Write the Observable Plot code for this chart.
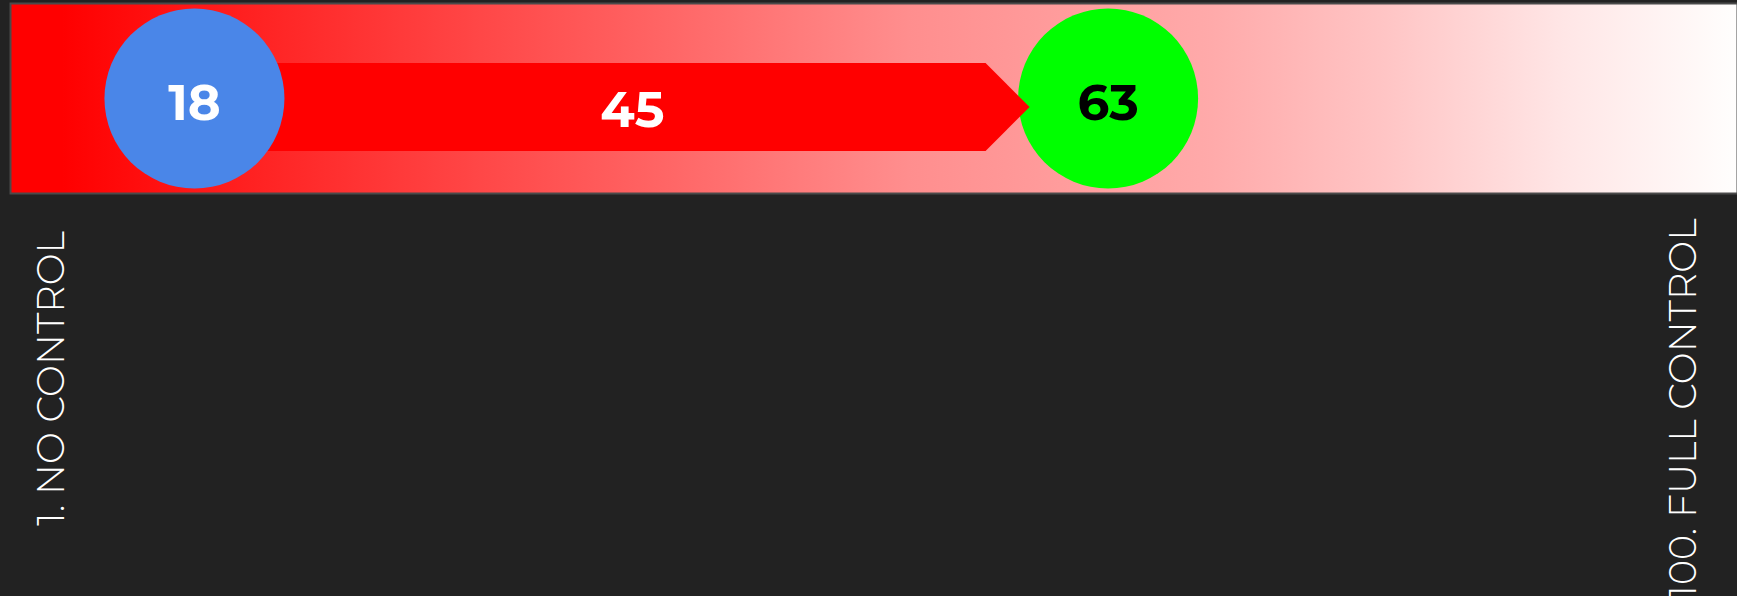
<!DOCTYPE html>
<html>
<head>
<meta charset="utf-8">
<script src="https://cdn.jsdelivr.net/npm/d3@7"></script>
<script src="https://cdn.jsdelivr.net/npm/@observablehq/plot@0.6"></script>
<style>
  html, body { margin: 0; padding: 0; background: #222222; overflow: hidden; }
  #chart svg { display: block; }
</style>
</head>
<body>
<div id="chart"></div>
<script>
// ---- data ----
const startValue = [18];
const endValue = [63];
const changeValue = [45];
const scaleLabels = ["1. NO CONTROL", "100. FULL CONTROL"];

// ---- styling ----
const R = 90;
const numFont = "Montserrat, Lato, 'Open Sans', sans-serif";
const lblFont = "Montserrat, Lato, 'Open Sans', sans-serif";
const gradStops = [
  [0, "#ff0000"], [0.03, "#ff0000"], [0.162, "#ff2828"], [0.347, "#ff5c5c"],
  [0.52, "#ff8e8e"], [0.695, "#ffaaaa"], [0.8, "#ffc6c6"], [0.9, "#ffe6e6"], [1, "#fffefd"]
];

function gradientDefs() {
  const defs = d3.create("svg:defs");
  const lg = defs.append("linearGradient").attr("id", "barGrad")
    .attr("x1", 0).attr("x2", 1).attr("y1", 0).attr("y2", 0);
  for (const [o, c] of gradStops) lg.append("stop").attr("offset", o).attr("stop-color", c);
  return defs.node();
}

function arrowMark(index, scales, values, dimensions) {
  const {x} = scales;
  const {marginTop, marginBottom, height} = dimensions;
  const cy = (marginTop + height - marginBottom) / 2 + 9;
  const half = 44;
  const x0 = x(startValue[0]);
  const tip = x(endValue[0]) - R + 12;
  const sh = tip - half;
  return d3.create("svg:path")
    .attr("d", `M${x0},${cy - half}L${sh},${cy - half}L${tip},${cy}L${sh},${cy + half}L${x0},${cy + half}Z`)
    .attr("fill", "#ff0000")
    .node();
}

const chart = Plot.plot({
  width: 1737,
  height: 596,
  marginLeft: 10,
  marginRight: 0,
  marginTop: 3,
  marginBottom: 403,
  style: { background: "#222222", color: "white", overflow: "visible" },
  x: { domain: [8.94, 94.0], axis: null },
  marks: [
    gradientDefs,
    Plot.frame({ fill: "url(#barGrad)", stroke: "#4a4a4a", strokeWidth: 2 }),
    Plot.dot(endValue, { x: d => d, r: R, fill: "#00ff00" }),
    arrowMark,
    Plot.dot(startValue, { x: d => d, r: R, fill: "#4a86e8" }),
    Plot.text(startValue, { x: d => d, text: d => String(d), fill: "white", fontSize: 50, fontWeight: 700, fontFamily: numFont, dy: 5 }),
    Plot.text(endValue, { x: d => d, text: d => String(d), fill: "black", fontSize: 50, fontWeight: 700, fontFamily: numFont, dy: 5 }),
    Plot.text(changeValue, { x: () => (startValue[0] + endValue[0]) / 2, text: d => String(d), fill: "white", fontSize: 50, fontWeight: 700, fontFamily: numFont, dx: -19, dy: 12 }),
    Plot.text([scaleLabels[0]], { text: d => d, frameAnchor: "bottom-left", textAnchor: "middle", lineAnchor: "middle", rotate: -90, dx: 41, dy: 185, fill: "white", fontSize: 38, fontWeight: 300, fontFamily: lblFont }),
    Plot.text([scaleLabels[1]], { text: d => d, frameAnchor: "bottom-right", textAnchor: "middle", lineAnchor: "middle", rotate: -90, dx: -54, dy: 215, fill: "white", fontSize: 38, fontWeight: 300, fontFamily: lblFont })
  ]
});
document.getElementById("chart").appendChild(chart);
</script>
</body>
</html>
